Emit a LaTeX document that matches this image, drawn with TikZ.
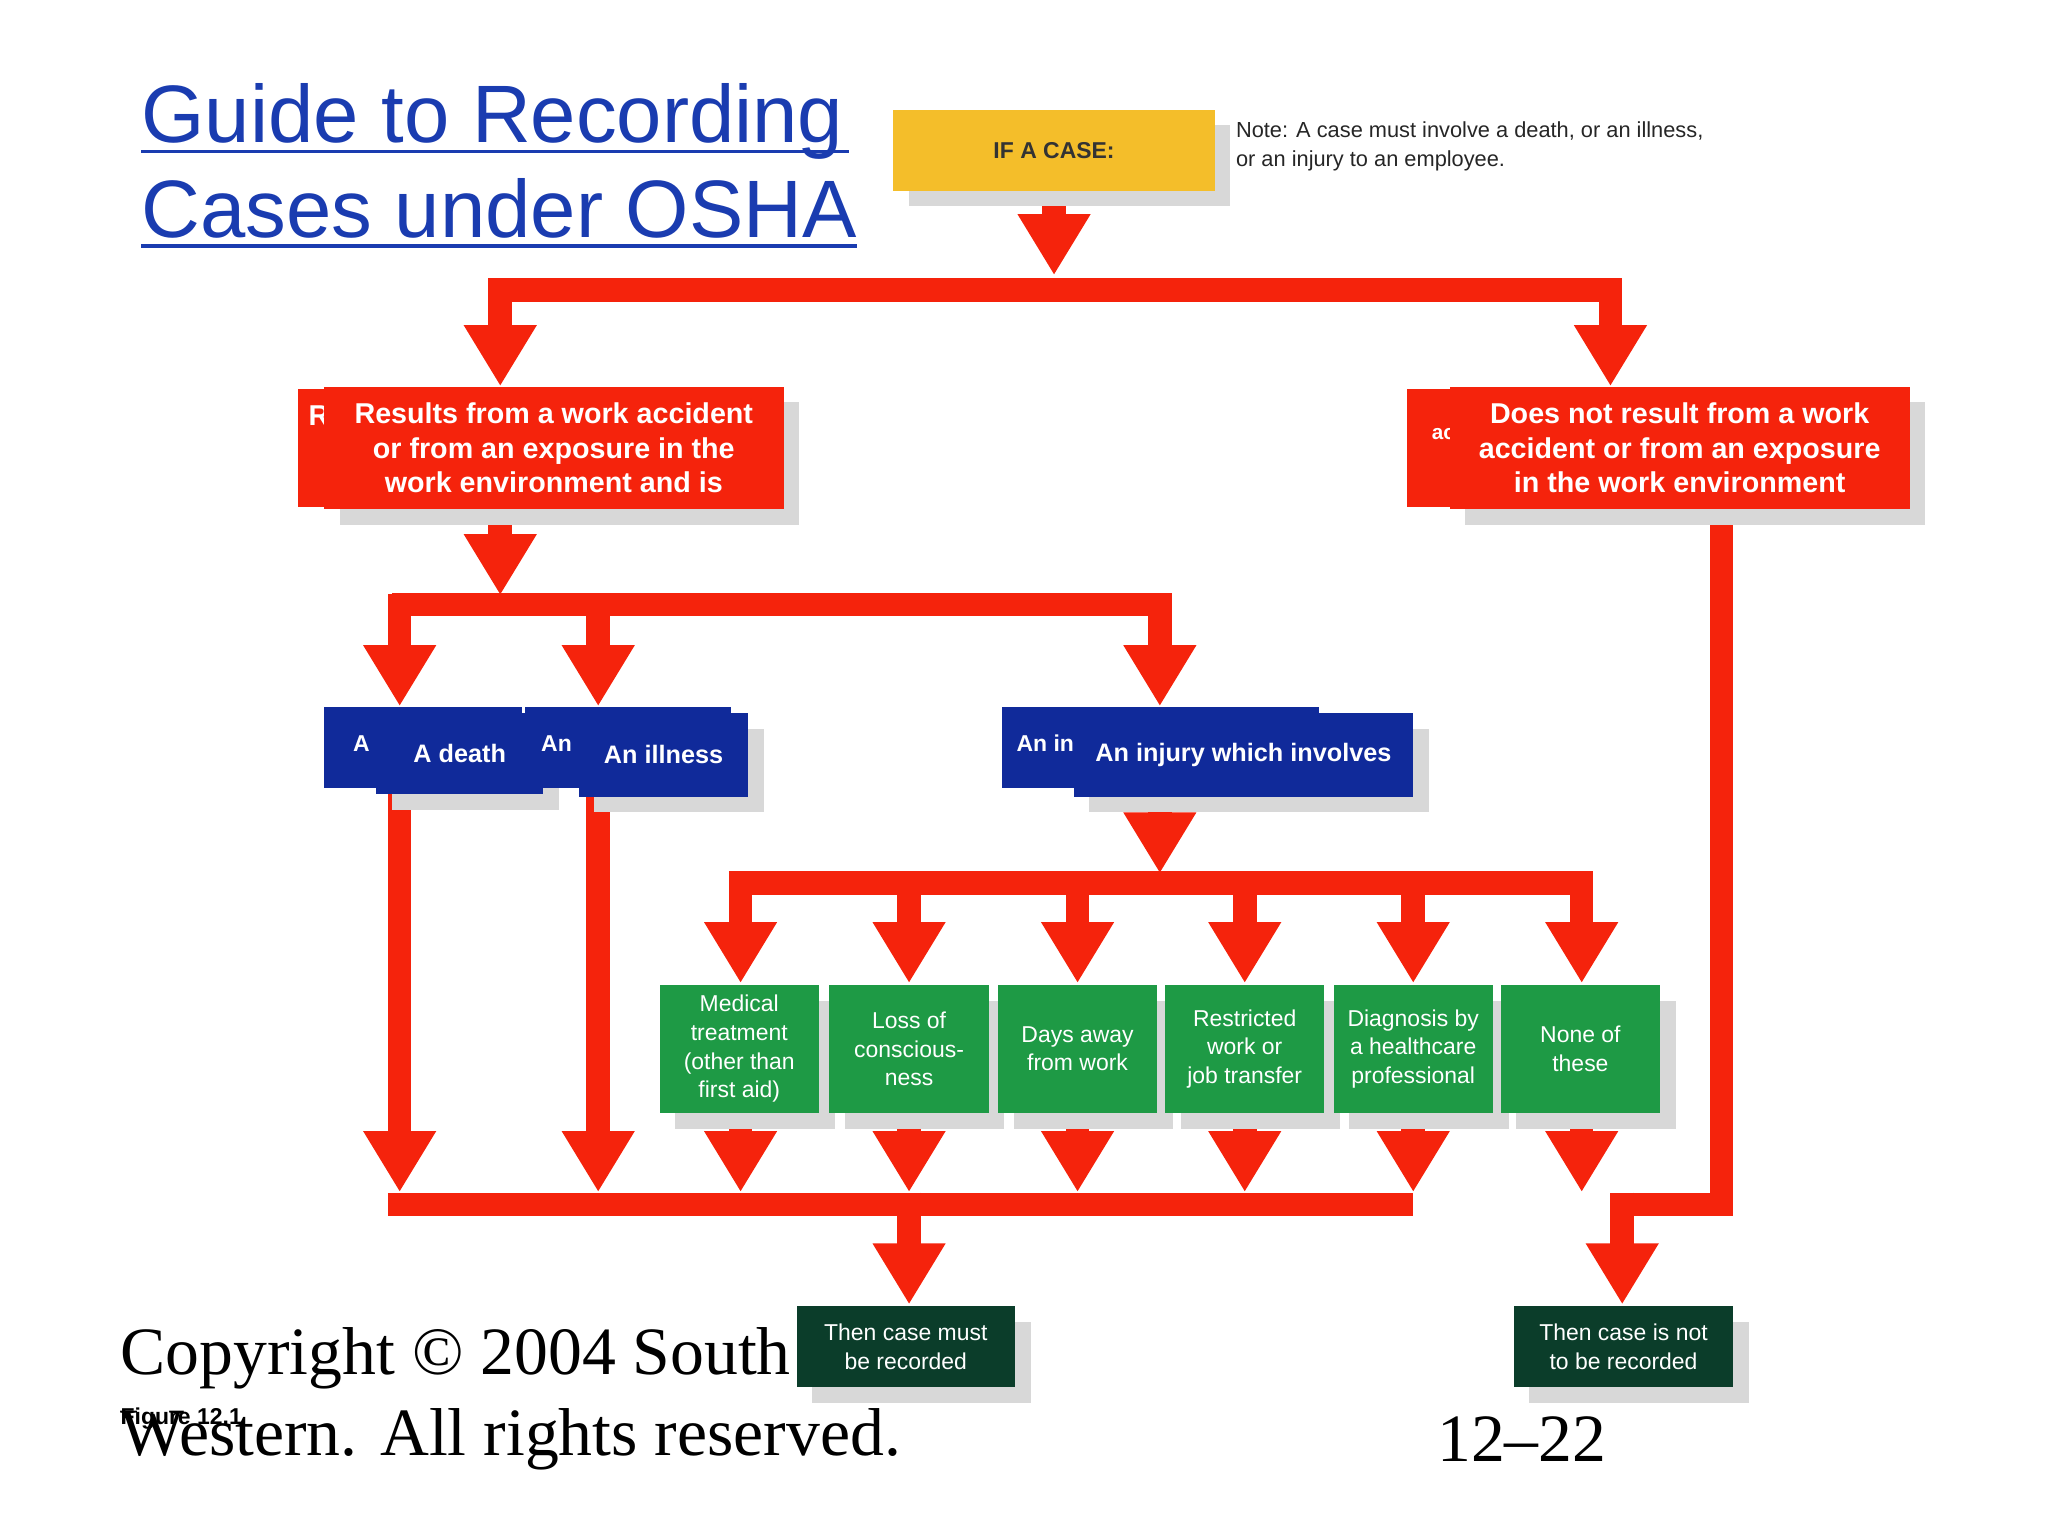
\documentclass[tikz,border=0pt]{standalone}
\usepackage{fontspec}
\setmainfont{Liberation Serif}
\newfontfamily\lsans{Liberation Sans}
\definecolor{rd}{HTML}{F5230C}
\definecolor{yl}{HTML}{F4BE2A}
\definecolor{bl}{HTML}{102A9A}
\definecolor{gr}{HTML}{1E9A45}
\definecolor{dg}{HTML}{0B3D2A}
\definecolor{tb}{HTML}{1A3CB0}
\definecolor{sh}{HTML}{D8D8D8}
\tikzset{x=0.02cm,y=-0.02cm,
 redl/.style={draw=rd,line width=0.36cm},
 ttl/.style={anchor=base west,text=tb,font=\lsans\fontsize{35.5}{40}\selectfont,inner sep=0pt},
 bx/.style={inner sep=0pt,align=center,font=\lsans\bfseries\fontsize{12.5}{15}\selectfont,text=white},
 gbx/.style={inner sep=0pt,align=center,font=\lsans\fontsize{10}{12.5}\selectfont,text=white}}
\newcommand\Ra[3]{\draw[redl] (#1,#2) -- (#1,#3-30); \fill[rd] (#1-28,#3-46) -- (#1+28,#3-46) -- (#1,#3) -- cycle;}
\newcommand\Bx[8]{\fill[sh] (#2+12,#3+12) rectangle (#4+12,#5+12);
 \fill[#6] (#2,#3) rectangle (#4,#5);
 \node[#8] (#1) at ({(#2+#4)/2},{(#3+#5)/2}) {#7};}
\begin{document}
\begin{tikzpicture}
\useasboundingbox (0,0) rectangle (1568,1176);
% title
\node[ttl] (t1) at (108,109) {Guide to Recording};
\node[ttl] (t2) at (108,182) {Cases under OSHA};
\draw[tb,line width=0.06cm] (108,116) -- (650,116);
\draw[tb,line width=0.06cm] (108,188) -- (t2.east |- 0,188);
% red lines
\Ra{807}{146}{210}
\draw[redl] (375,222) -- (1242,222);
\Ra{383}{213}{295}
\Ra{1233}{213}{295}
\Ra{383}{390}{455}
\draw[redl] (300,463) -- (897,463);
\Ra{306}{455}{540}
\Ra{458}{455}{540}
\Ra{888}{455}{540}
\Ra{306}{600}{912}
\Ra{458}{600}{912}
\Ra{888}{610}{668}
\draw[redl] (558,676) -- (1220,676);
\foreach \x in {567,696,825,953,1082,1211}{\Ra{\x}{668}{752}}
\foreach \x in {567,696,825,953,1082,1211}{\Ra{\x}{850}{912}}
\draw[redl] (297,922) -- (1082,922);
\Ra{696}{913}{998}
\draw[redl] (1318,395) -- (1318,922) -- (1233,922);
\Ra{1242}{913}{998}
% boxes
\Bx{ifc}{684}{84}{930}{146}{yl}{IF A CASE:}{bx,text=black!80,font=\lsans\bfseries\fontsize{10}{12}\selectfont}
\node[anchor=north west,align=left,inner sep=0pt,font=\lsans\fontsize{9.5}{12.5}\selectfont,text=black!85] (note) at (946,93) {Note: A case must involve a death, or an illness,\\or an injury to an employee.};
\fill[rd] (228,298) rectangle (580,388);
\node[bx,anchor=west] at (236,318) {R};
\Bx{wr}{248}{296}{600}{390}{rd}{Results from a work accident\\or from an exposure in the\\work environment and is}{bx}
\fill[rd] (1077,298) rectangle (1420,388);
\node[bx,anchor=west,font=\lsans\bfseries\fontsize{9}{12}\selectfont] at (1096,332) {ac};
\Bx{nwr}{1110}{296}{1462}{390}{rd}{Does not result from a work\\accident or from an exposure\\in the work environment}{bx}
\fill[bl] (248,541) rectangle (400,603);
\node[bx,anchor=west,font=\lsans\bfseries\fontsize{10}{12}\selectfont] at (270,569) {A};
\Bx{death}{288}{546}{416}{608}{bl}{A death}{bx,font=\lsans\bfseries\fontsize{11}{13}\selectfont}
\fill[bl] (402,541) rectangle (560,603);
\node[bx,anchor=west,font=\lsans\bfseries\fontsize{10}{12}\selectfont] at (414,569) {An};
\Bx{ill}{443}{546}{573}{610}{bl}{An illness}{bx,font=\lsans\bfseries\fontsize{11}{13}\selectfont}
\fill[bl] (767,541) rectangle (1010,603);
\node[bx,anchor=west,font=\lsans\bfseries\fontsize{10}{12}\selectfont] at (778,569) {An in};
\Bx{inj}{822}{546}{1082}{610}{bl}{An injury which involves}{bx,font=\lsans\bfseries\fontsize{11}{13}\selectfont}
\Bx{g1}{505}{754}{627}{852}{gr}{Medical\\treatment\\(other than\\first aid)}{gbx}
\Bx{g2}{635}{754}{757}{852}{gr}{Loss of\\conscious-\\ness}{gbx}
\Bx{g3}{764}{754}{886}{852}{gr}{Days away\\from work}{gbx}
\Bx{g4}{892}{754}{1014}{852}{gr}{Restricted\\work or\\job transfer}{gbx}
\Bx{g5}{1021}{754}{1143}{852}{gr}{Diagnosis by\\a healthcare\\professional}{gbx}
\Bx{g6}{1149}{754}{1271}{852}{gr}{None of\\these}{gbx}
% copyright
\node[anchor=west,inner sep=0pt,font=\fontsize{29.5}{34}\selectfont] (c1) at (92,1040) {Copyright \textcopyright\ 2004 South};
\Bx{rec}{610}{1000}{777}{1062}{dg}{Then case must\\be recorded}{gbx}
\Bx{nrec}{1159}{1000}{1327}{1062}{dg}{Then case is not\\to be recorded}{gbx}
\node[anchor=west,inner sep=0pt,font=\fontsize{29.5}{34}\selectfont] (c2) at (92,1102) {Western. All rights reserved.};
\node[anchor=west,inner sep=0pt,font=\lsans\bfseries\fontsize{10}{12}\selectfont] (fig) at (92,1086) {Figure 12.1};
\node[anchor=west,inner sep=0pt,font=\fontsize{29.5}{34}\selectfont] (pg) at (1100,1102) {12--22};
\end{tikzpicture}
\end{document}
